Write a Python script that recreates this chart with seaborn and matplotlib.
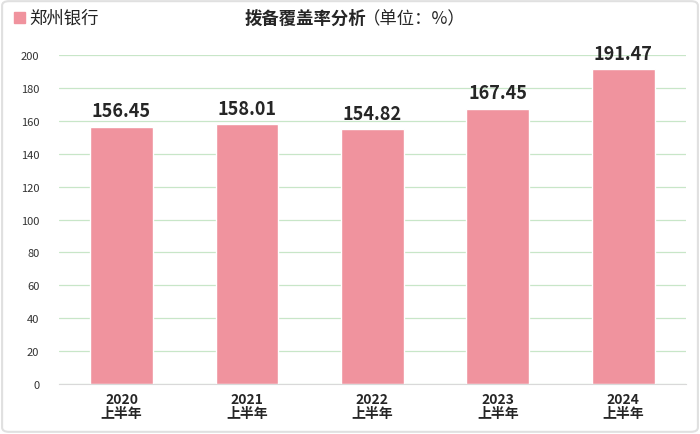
import matplotlib.pyplot as plt
import seaborn as sns
from matplotlib.patches import FancyBboxPatch, Rectangle

years = ["2020\n上半年", "2021\n上半年", "2022\n上半年", "2023\n上半年", "2024\n上半年"]
coverage = [156.45, 158.01, 154.82, 167.45, 191.47]
bank = "郑州银行"

sns.set_style("white")
plt.rcParams['font.family'] = ['Noto Sans CJK SC', 'DejaVu Sans']

fig = plt.figure(figsize=(7, 4.35), dpi=100)
ax = fig.add_axes([0.084, 0.115, 0.896, 0.756])

sns.barplot(x=years, y=coverage, color="#F0939E", saturation=1, width=0.5, ax=ax)

ax.set_ylim(0, 200)
ax.set_yticks(range(0, 201, 20))
ax.yaxis.grid(True, color="#c8e6c8", linewidth=0.9)
ax.set_axisbelow(True)
for s in ["top", "right", "left"]:
    ax.spines[s].set_visible(False)
ax.spines["bottom"].set_color("#d9d9d9")
ax.tick_params(axis="y", labelsize=8, colors="#333333", length=0, pad=14)
ax.tick_params(axis="x", length=0, pad=6)
for lbl in ax.get_xticklabels():
    lbl.set_fontsize(10)
    lbl.set_fontweight("bold")
    lbl.set_linespacing(1.0)

for i, v in enumerate(coverage):
    ax.text(i, v + 4, f"{v:.2f}", ha="center", va="bottom", fontsize=13, fontweight="bold")

# legend and title
fig.patches.append(Rectangle((0.02, 0.944), 0.016, 0.026, transform=fig.transFigure,
                             color="#F0939E"))
fig.text(0.042, 0.956, bank, fontsize=12.5, va="center", color="#222222")
fig.text(0.35, 0.956, "拨备覆盖率分析", fontsize=12.5, va="center", fontweight="bold")
fig.text(0.518, 0.956, "（单位：%）", fontsize=12.5, va="center")

fig.patches.append(FancyBboxPatch((0.003, 0.005), 0.994, 0.99, boxstyle="round,pad=0,rounding_size=0.01",
                                  transform=fig.transFigure, fill=False, edgecolor="#e0e0e0", linewidth=1.5))

fig.savefig("out.png", dpi=100)
